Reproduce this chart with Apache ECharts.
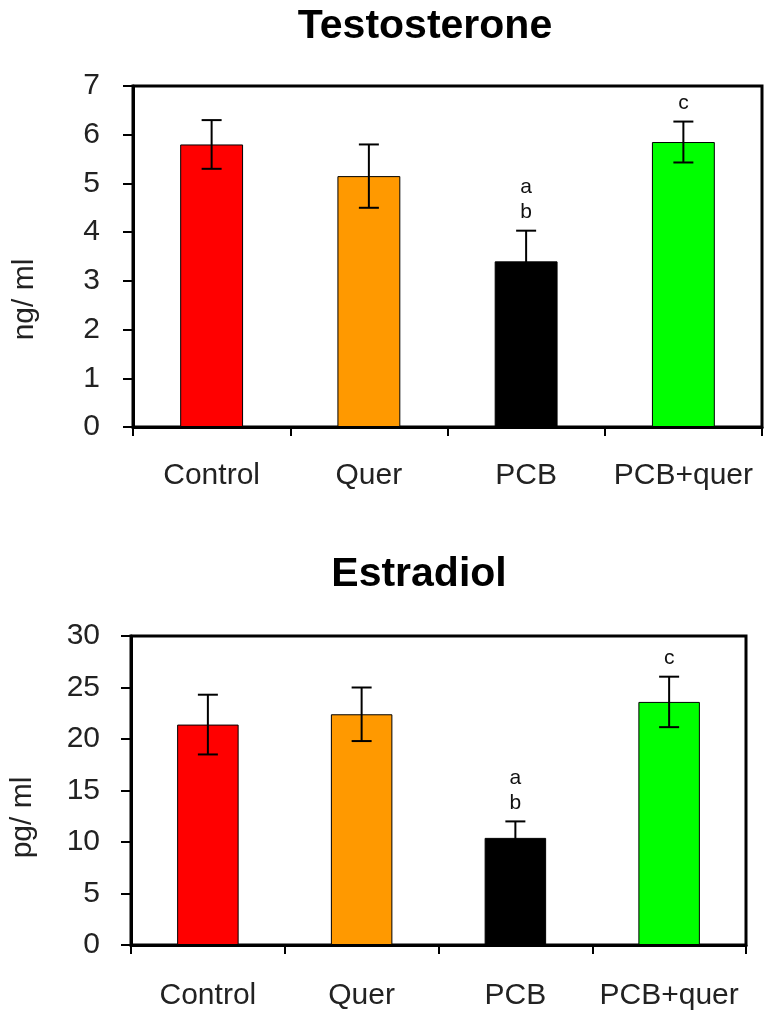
<!DOCTYPE html>
<html>
<head>
<meta charset="utf-8">
<script src="https://cdn.jsdelivr.net/npm/echarts@6/dist/echarts.min.js"></script>
<style>
html,body{margin:0;padding:0;background:#fff;}
#c{width:775px;height:1018px;}
</style>
</head>
<body>
<div id="c"></div>
<script>
// ---- data ----
const categories = ['Control', 'Quer', 'PCB', 'PCB+quer'];
const barColors = ['#ff0000', '#ff9900', '#000000', '#00ff00'];

const testoMean = [5.8, 5.15, 3.4, 5.85];
const testoErr = [0.5, 0.65, 0.63, 0.42];
const testoLetters = ['', '', 'a\nb', 'c'];

const estraMean = [21.4, 22.4, 10.4, 23.6];
const estraErr = [2.9, 2.6, 1.6, 2.45];
const estraLetters = ['', '', 'a\nb', 'c'];

const titles = ['Testosterone', 'Estradiol'];
const yNames = ['ng/ ml', 'pg/ ml'];

// ---- chart ----
const FONT = '"Liberation Sans", Arial, sans-serif';
const chart = echarts.init(document.getElementById('c'));

function errRender(params, api) {
  const x = api.value(0);
  const m = api.value(1);
  const e = api.value(2);
  const top = api.coord([x, m + e]);
  const bot = api.coord([x, m - e]);
  const hw = 10;
  const st = { stroke: '#000', lineWidth: 2 };
  return {
    type: 'group',
    children: [
      { type: 'line', shape: { x1: top[0], y1: top[1], x2: bot[0], y2: bot[1] }, style: st },
      { type: 'line', shape: { x1: top[0] - hw, y1: top[1], x2: top[0] + hw, y2: top[1] }, style: st },
      { type: 'line', shape: { x1: bot[0] - hw, y1: bot[1], x2: bot[0] + hw, y2: bot[1] }, style: st }
    ]
  };
}

const letterData = {};

function letterRender(params, api) {
  const x = api.value(0);
  const t = api.value(1);
  const p = api.coord([x, t]);
  const txt = letterData[params.seriesIndex][params.dataIndex];
  return {
    type: 'text',
    style: {
      text: txt, x: p[0], y: p[1] - 6,
      align: 'center', verticalAlign: 'bottom',
      font: '21px ' + FONT, fill: '#111', lineHeight: 25
    }
  };
}

function buildPanel(idx, mean, err) {
  const bars = {
    type: 'bar', xAxisIndex: idx, yAxisIndex: idx, barWidth: '40%',
    data: mean.map((v, i) => ({ value: v, itemStyle: { color: barColors[i], borderColor: '#000', borderWidth: 1 } })),
    animation: false, z: 2
  };
  const errs = {
    type: 'custom', xAxisIndex: idx, yAxisIndex: idx, renderItem: errRender,
    data: mean.map((v, i) => [i, v, err[i]]), z: 5, animation: false
  };
  const lets = {
    type: 'custom', xAxisIndex: idx, yAxisIndex: idx, renderItem: letterRender,
    data: mean.map((v, i) => [i, v + err[i]]), z: 6, animation: false
  };
  return [bars, errs, lets];
}

const s0 = buildPanel(0, testoMean, testoErr);
const s1 = buildPanel(1, estraMean, estraErr);
letterData[2] = testoLetters;
letterData[5] = estraLetters;

function xAx(idx, margin) {
  return {
    type: 'category', gridIndex: idx, data: categories,
    axisLine: { lineStyle: { color: '#000', width: 3 } },
    axisTick: { show: true, length: 9, lineStyle: { color: '#000', width: 2 } },
    axisLabel: { color: '#222', fontSize: 30, fontFamily: FONT, margin: margin, interval: 0 },
    splitLine: { show: false }
  };
}
function yAx(idx, max, interval, name, pad, margin) {
  return {
    type: 'value', gridIndex: idx, min: 0, max: max, interval: interval,
    name: name, nameLocation: 'middle', nameGap: 93,
    nameTextStyle: { color: '#222', fontSize: 30, fontFamily: FONT, padding: [0, pad, 0, 0] },
    axisLine: { show: true, lineStyle: { color: '#000', width: 3 } },
    axisTick: { show: true, length: 10, lineStyle: { color: '#000', width: 2 } },
    axisLabel: { color: '#222', fontSize: 30, fontFamily: FONT, margin: margin },
    splitLine: { show: false }
  };
}

chart.setOption({
  backgroundColor: '#fff',
  animation: false,
  title: [
    { text: titles[0], left: 420, top: 1, textAlign: 'center',
      textStyle: { fontSize: 41, fontWeight: 'bold', color: '#000', fontFamily: FONT } },
    { text: titles[1], left: 414, top: 549, textAlign: 'center',
      textStyle: { fontSize: 41, fontWeight: 'bold', color: '#000', fontFamily: FONT } }
  ],
  grid: [
    { left: 133, top: 86, width: 629, height: 341, show: true, borderColor: '#000', borderWidth: 3, backgroundColor: '#fff' },
    { left: 130, top: 636, width: 616, height: 309, show: true, borderColor: '#000', borderWidth: 3, backgroundColor: '#fff' }
  ],
  xAxis: [xAx(0, 34), xAx(1, 36)],
  yAxis: [yAx(0, 7, 1, yNames[0], 86, 33), yAx(1, 30, 5, yNames[1], 54, 31)],
  series: s0.concat(s1)
});
</script>
</body>
</html>
